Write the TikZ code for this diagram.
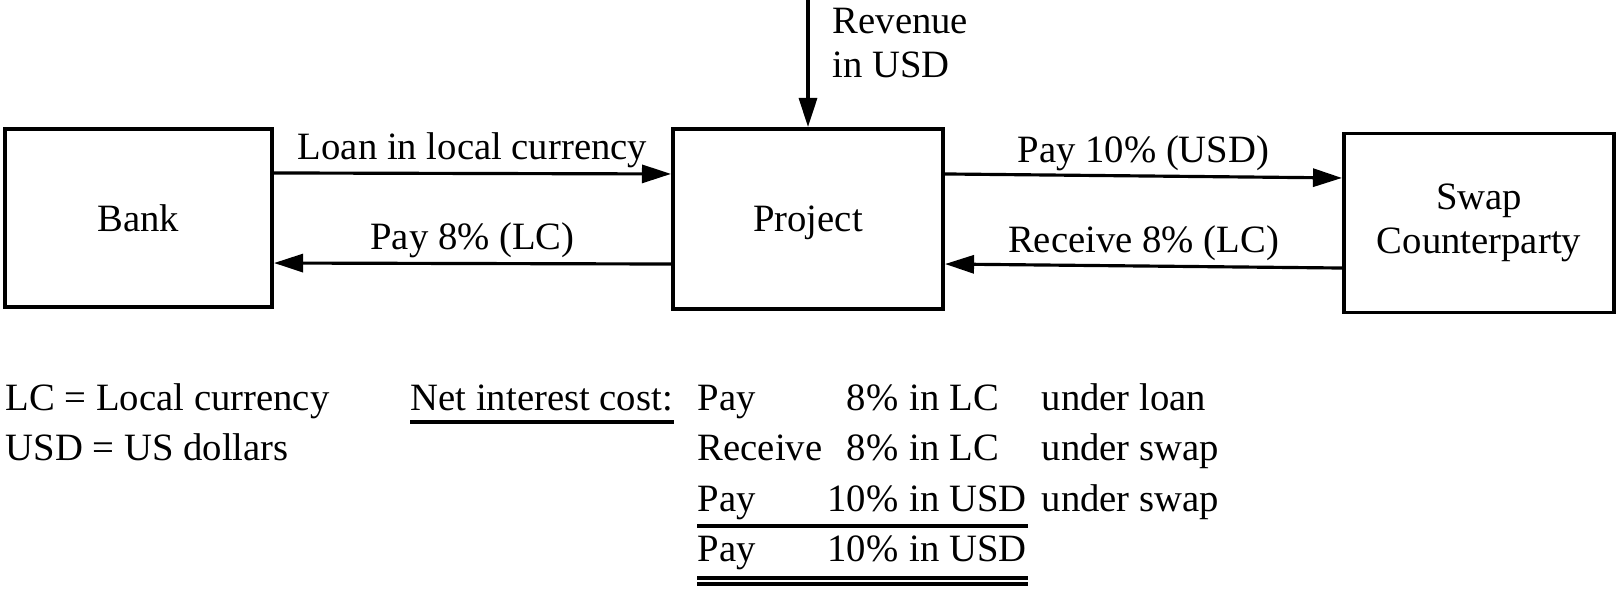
\documentclass[tikz,border=0pt]{standalone}
\usepackage{fontspec}
\setmainfont{Liberation Serif}
\usetikzlibrary{positioning,arrows.meta}

\begin{document}
\begin{tikzpicture}[
    x=0.01cm, y=0.01cm,
    font=\fontsize{11}{12.6}\selectfont,
    box/.style={draw, line width=1.1pt, minimum width=2.7cm, minimum height=1.8cm, align=center},
    lbl/.style={inner sep=0pt, text height=0.7em, text depth=0.25em},
    txt/.style={inner sep=0pt, anchor=base west},
    arrow/.style={-{Triangle[length=2.9mm, width=1.8mm]}, line width=0.9pt},
    rule/.style={line width=1pt},
]
\useasboundingbox (0,0) rectangle (1619,588);
% the three parties
\node[box, minimum width=2.67cm, minimum height=1.78cm] (bank) at (138.5,370) {Bank};
\node[box, text depth=0pt] (project) at (808,369) {Project};
\node[box, minimum height=1.79cm] (swap) at (1479,365) {Swap\\Counterparty};
% cash flows between them
\draw[arrow] ([yshift=4.5mm]bank.east) -- node[lbl, above=1pt] (loan) {Loan in local currency} ([yshift=4.5mm]project.west);
\draw[arrow] ([yshift=-4.5mm]project.west) -- node[lbl, above=1pt] (int) {Pay 8\% (LC)} ([yshift=-4.5mm]bank.east);
\draw[arrow] ([yshift=4.5mm]project.east) -- node[lbl, above=1pt] (fix) {Pay 10\% (USD)} ([yshift=4.5mm]swap.west);
\draw[arrow] ([yshift=-4.5mm]swap.west) -- node[lbl, above=1pt] (recv) {Receive 8\% (LC)} ([yshift=-4.5mm]project.east);
% revenue comes in from above
\coordinate[above=1.29cm of project.north] (revtop);
\draw[arrow] (revtop) -- (project.north);
\node[txt, align=left] (rev) at (832,510) {Revenue\\in USD};
% legend
\node[txt] (lc) at (5,177) {LC = Local currency};
\node[txt] (usd) at (5,127) {USD = US dollars};
\node[txt] (net) at (410,177) {Net interest cost:};
\draw[rule] ([yshift=-1.1mm]net.base west) -- ([yshift=-1.1mm]net.base east);
\foreach \y/\act/\rate/\cur/\src [count=\i] in {177/Pay/8/LC/under loan, 127/Receive/8/LC/under swap, 77/Pay/10/USD/under swap}{
  \node[txt] (act\i) at (697,\y) {\act};
  \node[txt, anchor=base east] (rate\i) at (899,\y) {\rate\%};
  \node[txt] (cur\i) at (909,\y) {in \cur};
  \node[txt] (src\i) at (1041,\y) {\src};
}
% total
\node[txt] (act4) at (697,27) {Pay};
\node[txt, anchor=base east] (rate4) at (899,27) {10\%};
\node[txt] (cur4) at (909,27) {in USD};
\draw[rule] ([yshift=3.5mm]act4.base west) -- ([yshift=3.5mm]cur4.base east);
\draw[rule] ([yshift=-1.7mm]act4.base west) -- ([yshift=-1.7mm]cur4.base east);
\draw[rule] ([yshift=-2.3mm]act4.base west) -- ([yshift=-2.3mm]cur4.base east);
\end{tikzpicture}
\end{document}
